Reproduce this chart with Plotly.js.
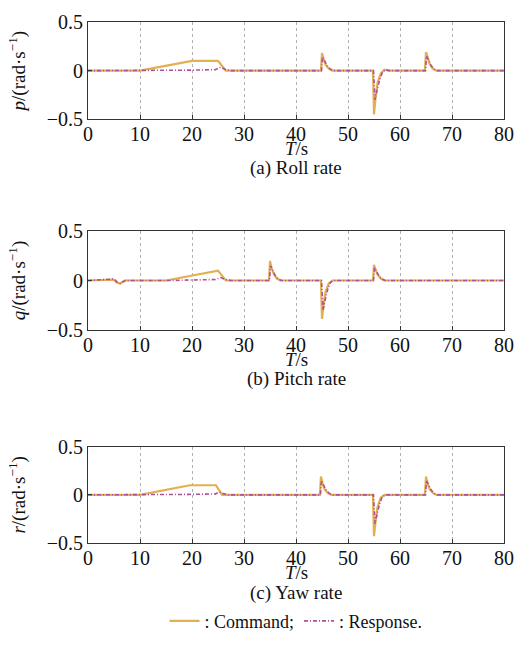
<!DOCTYPE html>
<html>
<head>
<meta charset="utf-8">
<script src="https://cdn.plot.ly/plotly-3.0.1.min.js"></script>
<style>
  html, body { margin: 0; padding: 0; background: #fff; }
  #chart { width: 516px; height: 652px; }
</style>
</head>
<body>
<div id="chart"></div>
<script>
// ---- data (time in s, rates in rad/s) ----
const xTicks = [0, 10, 20, 30, 40, 50, 60, 70, 80];
const yTicks = [-0.5, 0, 0.5];
const yTickText = ['\u22120.5', '0', '0.5'];

// (a) Roll rate
const pCmdT = [0, 10, 20, 25, 25.6, 26.5, 44.8, 45, 45.3, 45.7, 46.3, 47, 54.8, 55, 55.3, 55.7, 56.3, 57, 57.8, 64.8, 65, 65.3, 65.7, 66.3, 67, 80];
const pCmd  = [0, 0, 0.1, 0.1, 0.06, 0, 0, 0.18, 0.12, 0.06, 0.02, 0, 0, -0.45, -0.28, -0.12, -0.03, 0.01, 0, 0, 0.19, 0.13, 0.07, 0.02, 0, 0];
const pResT = [0, 10, 20, 24.5, 25.5, 26.5, 27.5, 44.9, 45.1, 45.5, 46, 46.6, 47.2, 54.9, 55.2, 55.6, 56.1, 56.6, 57.2, 58, 64.9, 65.1, 65.5, 66, 66.6, 67.2, 80];
const pRes  = [0, 0, 0.005, 0.01, 0.035, 0.01, 0, 0, 0.14, 0.1, 0.05, 0.015, 0, 0, -0.3, -0.2, -0.09, -0.02, 0.01, 0, 0, 0.15, 0.1, 0.05, 0.015, 0, 0];

// (b) Pitch rate
const qCmdT = [0, 4.9, 5.5, 6.2, 7, 15, 25, 25.8, 26.5, 34.8, 35, 35.3, 35.7, 36.3, 37, 44.8, 45, 45.3, 45.7, 46.3, 47, 54.8, 55, 55.3, 55.7, 56.3, 57, 80];
const qCmd  = [0, 0.01, -0.02, -0.03, 0, 0, 0.1, 0.04, 0, 0, 0.2, 0.13, 0.07, 0.02, 0, 0, -0.39, -0.25, -0.11, -0.03, 0, 0, 0.16, 0.11, 0.06, 0.02, 0, 0];
const qResT = [0, 5, 5.6, 6.2, 7.2, 15, 24.5, 25.5, 26.5, 27.5, 34.9, 35.1, 35.5, 36, 36.6, 37.2, 44.9, 45.2, 45.6, 46.1, 46.6, 47.2, 54.9, 55.1, 55.5, 56, 56.6, 57.2, 80];
const qRes  = [0, 0.015, -0.015, -0.03, 0, 0, 0.01, 0.03, 0.01, 0, 0, 0.15, 0.1, 0.05, 0.015, 0, 0, -0.3, -0.2, -0.09, -0.02, 0, 0, 0.13, 0.09, 0.045, 0.012, 0, 0];

// (c) Yaw rate
const rCmdT = [0, 10, 19.6, 24.6, 25.2, 25.8, 44.6, 44.8, 45.1, 45.5, 46.1, 46.8, 54.8, 55, 55.3, 55.7, 56.3, 57, 64.8, 65, 65.3, 65.7, 66.3, 67, 80];
const rCmd  = [0, 0, 0.1, 0.1, 0.05, 0, 0, 0.19, 0.12, 0.06, 0.02, 0, 0, -0.43, -0.27, -0.12, -0.03, 0, 0, 0.19, 0.12, 0.06, 0.02, 0, 0];
const rResT = [0, 10, 20, 24.5, 25.3, 26.2, 27, 44.7, 44.9, 45.3, 45.8, 46.4, 47, 54.9, 55.2, 55.6, 56.1, 56.6, 57.3, 64.9, 65.1, 65.5, 66, 66.6, 67.2, 80];
const rRes  = [0, 0, 0.005, 0.01, 0.03, 0.01, 0, 0, 0.15, 0.1, 0.05, 0.015, 0, 0, -0.3, -0.2, -0.09, -0.02, 0, 0, 0.15, 0.1, 0.05, 0.015, 0, 0];

const yTitles = ['<i>p</i>/(rad\u00b7s<sup>\u22121</sup>)', '<i>q</i>/(rad\u00b7s<sup>\u22121</sup>)', '<i>r</i>/(rad\u00b7s<sup>\u22121</sup>)'];
const xTitle = '<i>T</i>/s';
const captions = ['(a) Roll rate', '(b) Pitch rate', '(c) Yaw rate'];
const seriesNames = [': Command;', ': Response.'];

// ---- styling ----
const FONT = 'Liberation Serif';
const cmdColor = '#e3b050';
const resColor = '#b0509a';

const sets = [[pCmdT, pCmd, pResT, pRes], [qCmdT, qCmd, qResT, qRes], [rCmdT, rCmd, rResT, rRes]];
const traces = [];
sets.forEach((s, i) => {
  const ax = i === 0 ? '' : String(i + 1);
  traces.push({ x: s[0], y: s[1], xaxis: 'x' + ax, yaxis: 'y' + ax, mode: 'lines', name: seriesNames[0],
    line: { color: cmdColor, width: 2.2 }, showlegend: i === 0 });
  traces.push({ x: s[2], y: s[3], xaxis: 'x' + ax, yaxis: 'y' + ax, mode: 'lines', name: seriesNames[1],
    line: { color: resColor, width: 1.6, dash: '4px,2px,1px,2px' }, showlegend: i === 0 });
});

const domains = [[0.8133, 1.0], [0.4095, 0.5981], [0.0, 0.1848]];
const xTitleY = [-0.3, -0.3, -0.31];
const captionY = [-0.505, -0.505, -0.515];
const layout = {
  width: 516, height: 652,
  margin: { l: 88, r: 12, t: 22, b: 105 },
  paper_bgcolor: '#fff', plot_bgcolor: '#fff',
  font: { family: FONT, size: 20, color: '#111' },
  showlegend: true,
  legend: { orientation: 'h', x: 0.5, xanchor: 'center', y: -0.15, yanchor: 'middle',
    font: { family: FONT, size: 18, color: '#111' }, itemwidth: 30, traceorder: 'normal',
    bgcolor: 'rgba(0,0,0,0)' },
  annotations: [],
};
for (let i = 0; i < 3; i++) {
  const ax = i === 0 ? '' : String(i + 1);
  layout['xaxis' + ax] = {
    domain: [0, 1], anchor: 'y' + ax, range: [0, 80], tickvals: xTicks,
    ticks: 'inside', ticklen: 4, tickcolor: '#333', ticklabelstandoff: -3,
    showline: true, mirror: true, linecolor: '#333', linewidth: 1,
    showgrid: true, gridcolor: '#b0b0b0', griddash: 'dot', gridwidth: 1, zeroline: false,
    tickfont: { family: FONT, size: 20, color: '#111' },
  };
  layout['yaxis' + ax] = {
    domain: domains[i], anchor: 'x' + ax, range: [-0.5, 0.5], tickvals: yTicks, ticktext: yTickText,
    ticks: 'inside', ticklen: 4, tickcolor: '#333',
    showline: true, mirror: true, linecolor: '#333', linewidth: 1,
    showgrid: false, zeroline: false,
    tickfont: { family: FONT, size: 20, color: '#111' },
    title: { text: yTitles[i], font: { family: FONT, size: 19, color: '#111' }, standoff: 16 },
  };
  layout.annotations.push({
    text: xTitle, xref: 'x' + ax + ' domain', yref: 'y' + ax + ' domain',
    x: 0.5, y: xTitleY[i], xanchor: 'center', yanchor: 'middle', showarrow: false,
    font: { family: FONT, size: 19, color: '#111' },
  });
  layout.annotations.push({
    text: captions[i], xref: 'x' + ax + ' domain', yref: 'y' + ax + ' domain',
    x: 0.5, y: captionY[i], xanchor: 'center', yanchor: 'middle', showarrow: false,
    font: { family: FONT, size: 19, color: '#111' },
  });
}

Plotly.newPlot('chart', traces, layout, { displayModeBar: false, staticPlot: true });
</script>
</body>
</html>
